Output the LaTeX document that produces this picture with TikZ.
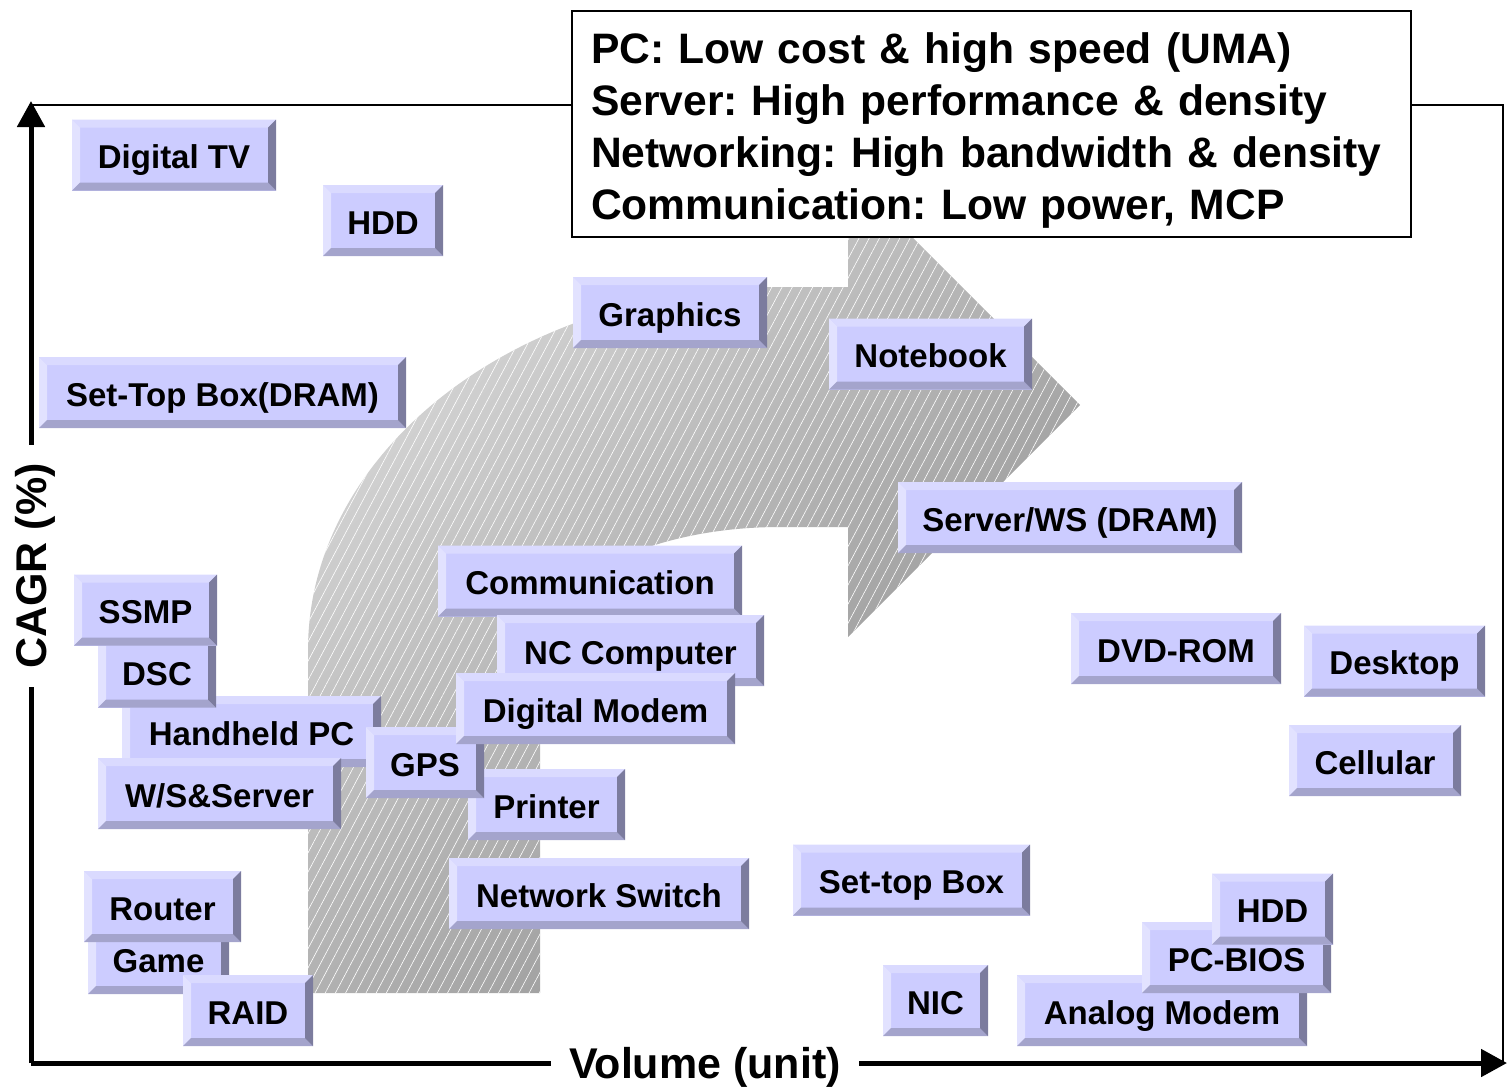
\documentclass[tikz,border=0pt]{standalone}
\usepackage{fontspec}
\setmainfont{Liberation Sans}
\usetikzlibrary{arrows.meta,patterns.meta}
\frenchspacing

\definecolor{chipface}{HTML}{CCCCFF}
\definecolor{chiptop}{HTML}{DADAFF}
\definecolor{chipleft}{HTML}{E2E2FF}
\definecolor{chipright}{HTML}{7C7C9E}
\definecolor{chipbot}{HTML}{A4A4CC}
\definecolor{arrowlight}{HTML}{D8D8D8}
\definecolor{arrowdark}{HTML}{8E8E8E}

\tikzset{
  chip/.style={rectangle, fill=chipface, inner sep=0pt, minimum height=71,
    text height=27pt, text depth=0pt, font=\bfseries\fontsize{33}{40}\selectfont,
    path picture={
      \fill[chiptop] (path picture bounding box.north west) -- (path picture bounding box.north east)
        -- ([shift={(-8pt,-8pt)}]path picture bounding box.north east) -- ([shift={(8pt,-8pt)}]path picture bounding box.north west) -- cycle;
      \fill[chipleft] (path picture bounding box.north west) -- (path picture bounding box.south west)
        -- ([shift={(8pt,8pt)}]path picture bounding box.south west) -- ([shift={(8pt,-8pt)}]path picture bounding box.north west) -- cycle;
      \fill[chipbot] (path picture bounding box.south west) -- (path picture bounding box.south east)
        -- ([shift={(-8pt,8pt)}]path picture bounding box.south east) -- ([shift={(8pt,8pt)}]path picture bounding box.south west) -- cycle;
      \fill[chipright] (path picture bounding box.north east) -- (path picture bounding box.south east)
        -- ([shift={(-8pt,8pt)}]path picture bounding box.south east) -- ([shift={(-8pt,-8pt)}]path picture bounding box.north east) -- cycle;
    }},
  axisline/.style={line width=5pt, -{Triangle[length=26pt,width=27pt]}},
  frameline/.style={line width=2pt},
  axislbl/.style={fill=white, inner xsep=18pt, inner ysep=2pt, text height=30.8pt, text depth=0pt,
    font=\bfseries\fontsize{43}{50}\selectfont}
}

\begin{document}
\begin{tikzpicture}[x=1pt,y=-1pt]
\useasboundingbox (0,0) rectangle (1511,1087);

% bent arrow in the background
\shade[top color=arrowlight, bottom color=arrowdark, shading angle=45,
  postaction={pattern={Lines[angle=62,distance=9pt,line width=0.6pt]}, pattern color=white, fill opacity=0.12}]
  (308,993) -- (308,650) arc[start angle=180, end angle=270, x radius=472, y radius=363]
  -- (848,287) -- (848,173) -- (1080,405) -- (848,637) -- (848,527) -- (780,527)
  arc[start angle=270, end angle=180, x radius=240, y radius=123] -- (540,993) -- cycle;

% frame and axes
\coordinate (orig) at (31,1063);
\coordinate (ytop) at (31,101);
\coordinate (xend) at (1507,1063);
\coordinate (ftl) at (31,105);
\coordinate (ftr) at (1503,105);
\coordinate (fbr) at (1503,1063);
\draw[frameline] (ftl) -- (ftr) -- (fbr);
\draw[axisline] (orig) -- (ytop);
\draw[axisline] (orig) -- (xend);
\node[axislbl, rotate=90] (cagr) at (31,566) {CAGR (\%)};
\node[axislbl] (volume) at (705,1063) {Volume (unit)};

% upper left
\node[chip, minimum width=204] (dtv) at (174,155) {Digital TV};
\node[chip, minimum width=120] (hddtop) at (383,220.5) {HDD};
\node[chip, minimum width=367] (stbdram) at (222.5,392.5) {Set-Top Box(DRAM)};
\node[chip, minimum width=194] (graphics) at (670,312.5) {Graphics};
\node[chip, minimum width=203] (notebook) at (930.5,354) {Notebook};
\node[chip, minimum width=344] (server) at (1070,517.5) {Server/WS (DRAM)};

% middle cluster
\node[chip, minimum width=304] (comm) at (590,581) {Communication};
\node[chip, minimum width=267] (nccomp) at (630.5,650.5) {NC Computer};
\node[chip, minimum width=157] (printer) at (546.5,804.5) {Printer};
\node[chip, minimum width=259] (handheld) at (251.5,731.5) {Handheld PC};
\node[chip, minimum width=118] (dsc) at (157,672) {DSC};
\node[chip, minimum width=143] (ssmp) at (145.5,610) {SSMP};
\node[chip, minimum width=243] (wsserver) at (219.5,793.5) {W/S\&Server};
\node[chip, minimum width=118] (gps) at (425,762.5) {GPS};
\node[chip, minimum width=279] (dmodem) at (595.5,708.5) {Digital Modem};
\node[chip, minimum width=300] (nswitch) at (599,893.5) {Network Switch};
\node[chip, minimum width=237] (stb) at (911.5,880) {Set-top Box};

% right side
\node[chip, minimum width=210] (dvdrom) at (1176,648.5) {DVD-ROM};
\node[chip, minimum width=181] (desktop) at (1394.5,661) {Desktop};
\node[chip, minimum width=172] (cellular) at (1375,760.5) {Cellular};

% bottom row
\node[chip, minimum width=141] (game) at (158.5,958.5) {Game};
\node[chip, minimum width=157] (router) at (162.5,906.5) {Router};
\node[chip, minimum width=130] (raid) at (248,1010.5) {RAID};
\node[chip, minimum width=105] (nic) at (935.5,1000.5) {NIC};
\node[chip, minimum width=290] (amodem) at (1162,1010.5) {Analog Modem};
\node[chip, minimum width=189] (pcbios) at (1236.5,957.5) {PC-BIOS};
\node[chip, minimum width=121] (hddbot) at (1272.5,909) {HDD};

% legend box
\node[draw, line width=1.5pt, fill=white, minimum width=839, minimum height=226,
  inner xsep=0pt, inner ysep=3pt, text width=801, align=left,
  font=\bfseries\fontsize{42.6}{52}\selectfont] (legend) at (991.5,124)
  {\rule{0pt}{43pt}PC: Low cost \& high speed (UMA)\\
   Server: High performance \& density\\
   Networking: High bandwidth \& density\\
   Communication: Low power, MCP};

\end{tikzpicture}
\end{document}
